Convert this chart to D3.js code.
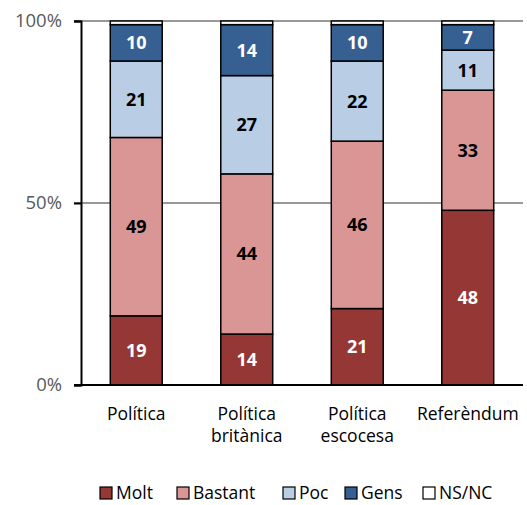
<!DOCTYPE html>
<html>
<head>
<meta charset="utf-8">
<script src="https://cdn.jsdelivr.net/npm/d3@7"></script>
<style>
  body { margin: 0; background: #fff; }
  svg { font-family: "Open Sans", "Liberation Sans", sans-serif; }
</style>
</head>
<body>
<div id="chart"></div>
<script>
const categories = [["Política"], ["Política", "britànica"], ["Política", "escocesa"], ["Referèndum"]];
const seriesNames = ["Molt", "Bastant", "Poc", "Gens", "NS/NC"];
const molt = [19, 14, 21, 48];
const bastant = [49, 44, 46, 33];
const poc = [21, 27, 22, 11];
const gens = [10, 14, 10, 7];
const nsnc = [1, 1, 1, 1];
const yTicks = [0, 50, 100];

const colors = ["#953735", "#D99694", "#B9CDE5", "#376092", "#FFFFFF"];
const labelColors = ["#fff", "#000", "#000", "#fff", "#000"];

const width = 527, height = 505;
const margin = { top: 21, right: 4, bottom: 120, left: 81 };

const rows = categories.map((c, i) => ({
  key: i,
  Molt: molt[i], Bastant: bastant[i], Poc: poc[i], Gens: gens[i], "NS/NC": nsnc[i]
}));
const stacked = d3.stack().keys(seriesNames)(rows);

const svg = d3.select("#chart").append("svg")
  .attr("width", width)
  .attr("height", height);

const x = d3.scaleBand()
  .domain(d3.range(categories.length))
  .range([margin.left, width - margin.right])
  .paddingInner(0.53)
  .paddingOuter(0.265);

const y = d3.scaleLinear()
  .domain([0, 100])
  .range([height - margin.bottom, margin.top]);

// gridlines
svg.append("g")
  .selectAll("line")
  .data(yTicks.filter((t) => t > 0))
  .join("line")
  .attr("x1", margin.left - 7)
  .attr("x2", width - margin.right)
  .attr("y1", (d) => y(d))
  .attr("y2", (d) => y(d))
  .attr("stroke", "#333")
  .attr("stroke-width", 1.2);

// bars
const layer = svg.append("g")
  .selectAll("g")
  .data(stacked)
  .join("g")
  .attr("fill", (d, i) => colors[i]);

layer.selectAll("rect")
  .data((d) => d)
  .join("rect")
  .attr("x", (d) => x(d.data.key))
  .attr("y", (d) => y(d[1]))
  .attr("width", x.bandwidth())
  .attr("height", (d) => y(d[0]) - y(d[1]))
  .attr("stroke", "#000")
  .attr("stroke-width", 1.5);

// value labels
stacked.forEach((s, si) => {
  if (si === 4) return;
  svg.append("g")
    .selectAll("text")
    .data(s)
    .join("text")
    .attr("x", (d) => x(d.data.key) + x.bandwidth() / 2)
    .attr("y", (d) => (y(d[0]) + y(d[1])) / 2)
    .attr("dy", "0.36em")
    .attr("text-anchor", "middle")
    .attr("font-size", 18)
    .attr("font-weight", "bold")
    .attr("fill", labelColors[si])
    .text((d) => d[1] - d[0]);
});

// y axis
const yAxis = d3.axisLeft(y)
  .tickValues(yTicks)
  .tickFormat((d) => d + "%")
  .tickSize(7)
  .tickPadding(12);

const yg = svg.append("g")
  .attr("transform", `translate(${margin.left},0)`)
  .call(yAxis);
yg.select(".domain").attr("stroke", "#000").attr("stroke-width", 2);
yg.selectAll(".tick line").attr("stroke", "#000").attr("stroke-width", 2);
yg.selectAll("text")
  .attr("fill", "#595959")
  .attr("font-size", 18.5)
  .attr("font-family", "Open Sans, Liberation Sans, sans-serif");

// x axis baseline
svg.append("line")
  .attr("x1", margin.left - 7)
  .attr("x2", width - margin.right)
  .attr("y1", y(0))
  .attr("y2", y(0))
  .attr("stroke", "#000")
  .attr("stroke-width", 2);

// category labels
const xl = svg.append("g")
  .selectAll("text")
  .data(categories)
  .join("text")
  .attr("x", (d, i) => x(i) + x.bandwidth() / 2)
  .attr("y", y(0) + 35)
  .attr("text-anchor", "middle")
  .attr("font-size", 17.5)
  .attr("fill", "#000");
xl.selectAll("tspan")
  .data((d) => d)
  .join("tspan")
  .attr("x", function () { return d3.select(this.parentNode).attr("x"); })
  .attr("dy", (d, i) => (i === 0 ? 0 : 22))
  .text((d) => d);

// legend
const legendX = [100, 177, 283, 345, 423];
const legend = svg.append("g")
  .selectAll("g")
  .data(seriesNames)
  .join("g")
  .attr("transform", (d, i) => `translate(${legendX[i]},487)`);
legend.append("rect")
  .attr("width", 12)
  .attr("height", 12)
  .attr("fill", (d, i) => colors[i])
  .attr("stroke", "#000")
  .attr("stroke-width", 1.2);
legend.append("text")
  .attr("x", 16)
  .attr("y", 6)
  .attr("dy", "0.36em")
  .attr("font-size", 17.5)
  .attr("fill", "#000")
  .text((d) => d);
</script>
</body>
</html>
